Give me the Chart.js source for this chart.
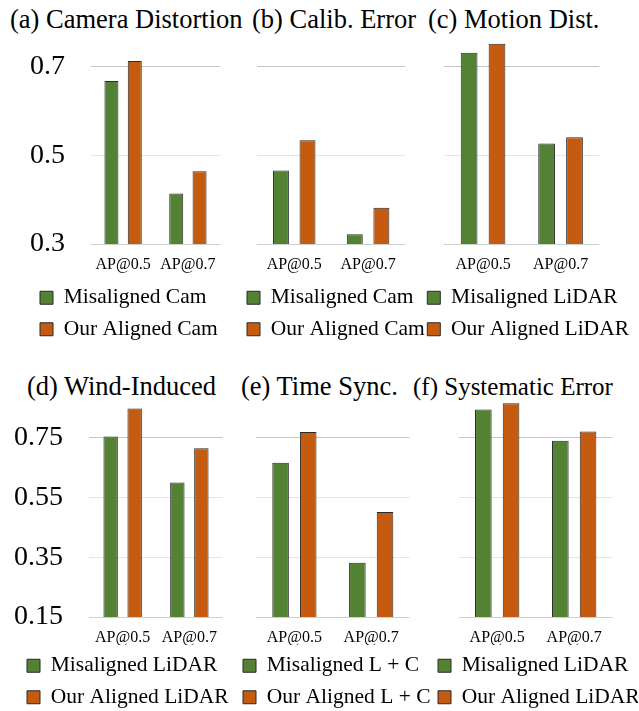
<!DOCTYPE html>
<html>
<head>
<meta charset="utf-8">
<script src="https://cdn.jsdelivr.net/npm/chart.js@4.4.1/dist/chart.umd.min.js"></script>
<style>
  html, body { margin: 0; padding: 0; background: #fff; overflow: hidden; }
  body { width: 639px; height: 711px; position: relative; font-family: 'Liberation Serif', serif; }
  canvas { position: absolute; }
  .title { position: absolute; font-family: 'Liberation Serif', serif; font-size: 26.5px; line-height: 26.5px; white-space: nowrap; color: #000; }
</style>
</head>
<body>
<div class="title" style="left:10px;top:6px">(a) Camera Distortion</div>
<div class="title" style="left:252px;top:6px">(b) Calib. Error</div>
<div class="title" style="left:428px;top:6px">(c) Motion Dist.</div>
<div class="title" style="left:27px;top:373px">(d) Wind-Induced</div>
<div class="title" style="left:241px;top:373px">(e) Time Sync.</div>
<div class="title" style="left:413px;top:374px;font-size:25px">(f) Systematic Error</div>

<canvas id="c1"></canvas>
<canvas id="c2"></canvas>
<canvas id="c3"></canvas>
<canvas id="c4"></canvas>
<canvas id="c5"></canvas>
<canvas id="c6"></canvas>

<script>
// data
const labels = ["AP@0.5", "AP@0.7"];
const topTicks = [0.3, 0.5, 0.7];
const bottomTicks = [0.15, 0.35, 0.55, 0.75];

const camDistMis = [0.668, 0.414];
const camDistOurs = [0.713, 0.464];
const calibMis = [0.466, 0.322];
const calibOurs = [0.534, 0.382];
const motionMis = [0.732, 0.527];
const motionOurs = [0.752, 0.541];
const windMis = [0.753, 0.600];
const windOurs = [0.847, 0.714];
const timeMis = [0.665, 0.331];
const timeOurs = [0.767, 0.500];
const sysMis = [0.842, 0.738];
const sysOurs = [0.863, 0.769];

const GREEN = "#548235";
const ORANGE = "#C55A11";
const FONT = "'Liberation Serif', serif";

// moves the legend sideways and lets it run to the canvas edge
const legendShift = {
  id: "legendShift",
  afterLayout(chart, args, opts) {
    const lg = chart.legend;
    if (!lg) return;
    lg.left += opts.dx || 0;
    lg.right = chart.width;
    lg.width = lg.right - lg.left;
  },
};

function makePanel(id, box, mis, ours, misLabel, oursLabel, yMin, yMax, ticks) {
  const canvas = document.getElementById(id);
  canvas.width = box.width;
  canvas.height = box.height;
  canvas.style.left = box.left + "px";
  canvas.style.top = box.top + "px";

  return new Chart(canvas, {
    type: "bar",
    data: {
      labels: labels,
      datasets: [
        { label: misLabel, data: mis, backgroundColor: GREEN, borderColor: "#2a2a2a", borderWidth: 1 },
        { label: oursLabel, data: ours, backgroundColor: ORANGE, borderColor: "#2a2a2a", borderWidth: 1 },
      ],
    },
    plugins: [legendShift],
    options: {
      responsive: false,
      animation: false,
      devicePixelRatio: 1,
      categoryPercentage: 0.72,
      barPercentage: 0.6,
      layout: {
        padding: { left: 0, right: box.width - box.chartRight, top: box.padTop, bottom: 0 },
      },
      plugins: {
        title: { display: false },
        tooltip: { enabled: false },
        legendShift: { dx: box.legendX - 10 },
        legend: {
          position: "bottom",
          align: "start",
          labels: {
            boxWidth: 13,
            boxHeight: 13,
            padding: 10,
            color: "#000",
            font: { family: FONT, size: 21.5 },
          },
        },
      },
      scales: {
        x: {
          grid: { display: false, drawTicks: false },
          border: { display: false },
          ticks: { color: "#000", padding: box.xTickPad, font: { family: FONT, size: 16 } },
          afterFit: (s) => { s.height = box.xAxisH; },
        },
        y: {
          min: yMin,
          max: yMax,
          border: { display: false },
          grid: {
            drawTicks: false,
            color: (ctx) => {
              const v = ctx.tick ? ctx.tick.value : null;
              if (v === ticks[0]) return "#cfcfcf";
              if (v === ticks[ticks.length - 1]) return "#c6c6c6";
              return "#e6e6e6";
            },
          },
          ticks: {
            display: box.showY,
            color: "#000",
            padding: box.yTickPad,
            font: { family: FONT, size: 28 },
            callback: (v) => String(v),
          },
          afterBuildTicks: (s) => { s.ticks = ticks.map((v) => ({ value: v })); },
          afterFit: (s) => { s.width = box.axisW; },
        },
      },
    },
  });
}

// top row (all x values relative to each canvas)
makePanel("c1", { left: 0, top: 0, width: 228, height: 350, padTop: 42.5,
  axisW: 90.7, chartRight: 224, xAxisH: 33, xTickPad: 11.5, showY: true, yTickPad: 25.7, legendX: 40 },
  camDistMis, camDistOurs, "Misaligned Cam", "Our Aligned Cam", 0.3, 0.755, topTicks);
makePanel("c2", { left: 240, top: 0, width: 190, height: 350, padTop: 42.5,
  axisW: 17.3, chartRight: 165, xAxisH: 33, xTickPad: 11.5, showY: false, yTickPad: 0, legendX: 7 },
  calibMis, calibOurs, "Misaligned Cam", "Our Aligned Cam", 0.3, 0.755, topTicks);
makePanel("c3", { left: 416.7, top: 0, width: 222, height: 350, padTop: 42.5,
  axisW: 27.3, chartRight: 182.3, xAxisH: 33, xTickPad: 11.5, showY: false, yTickPad: 0, legendX: 10.3 },
  motionMis, motionOurs, "Misaligned LiDAR", "Our Aligned LiDAR", 0.3, 0.755, topTicks);

// bottom row
makePanel("c4", { left: 0, top: 360, width: 238, height: 358, padTop: 42.7,
  axisW: 89.3, chartRight: 222.7, xAxisH: 28, xTickPad: 11, showY: true, yTickPad: 26.3, legendX: 27 },
  windMis, windOurs, "Misaligned LiDAR", "Our Aligned LiDAR", 0.15, 0.865, bottomTicks);
makePanel("c5", { left: 236.7, top: 360, width: 200, height: 358, padTop: 42.7,
  axisW: 19, chartRight: 172.6, xAxisH: 28, xTickPad: 11, showY: false, yTickPad: 0, legendX: 6 },
  timeMis, timeOurs, "Misaligned L + C", "Our Aligned L + C", 0.15, 0.865, bottomTicks);
makePanel("c6", { left: 432.3, top: 360, width: 206, height: 358, padTop: 42.7,
  axisW: 26.7, chartRight: 180.7, xAxisH: 28, xTickPad: 11, showY: false, yTickPad: 0, legendX: 6 },
  sysMis, sysOurs, "Misaligned LiDAR", "Our Aligned LiDAR", 0.15, 0.865, bottomTicks);
</script>
</body>
</html>
